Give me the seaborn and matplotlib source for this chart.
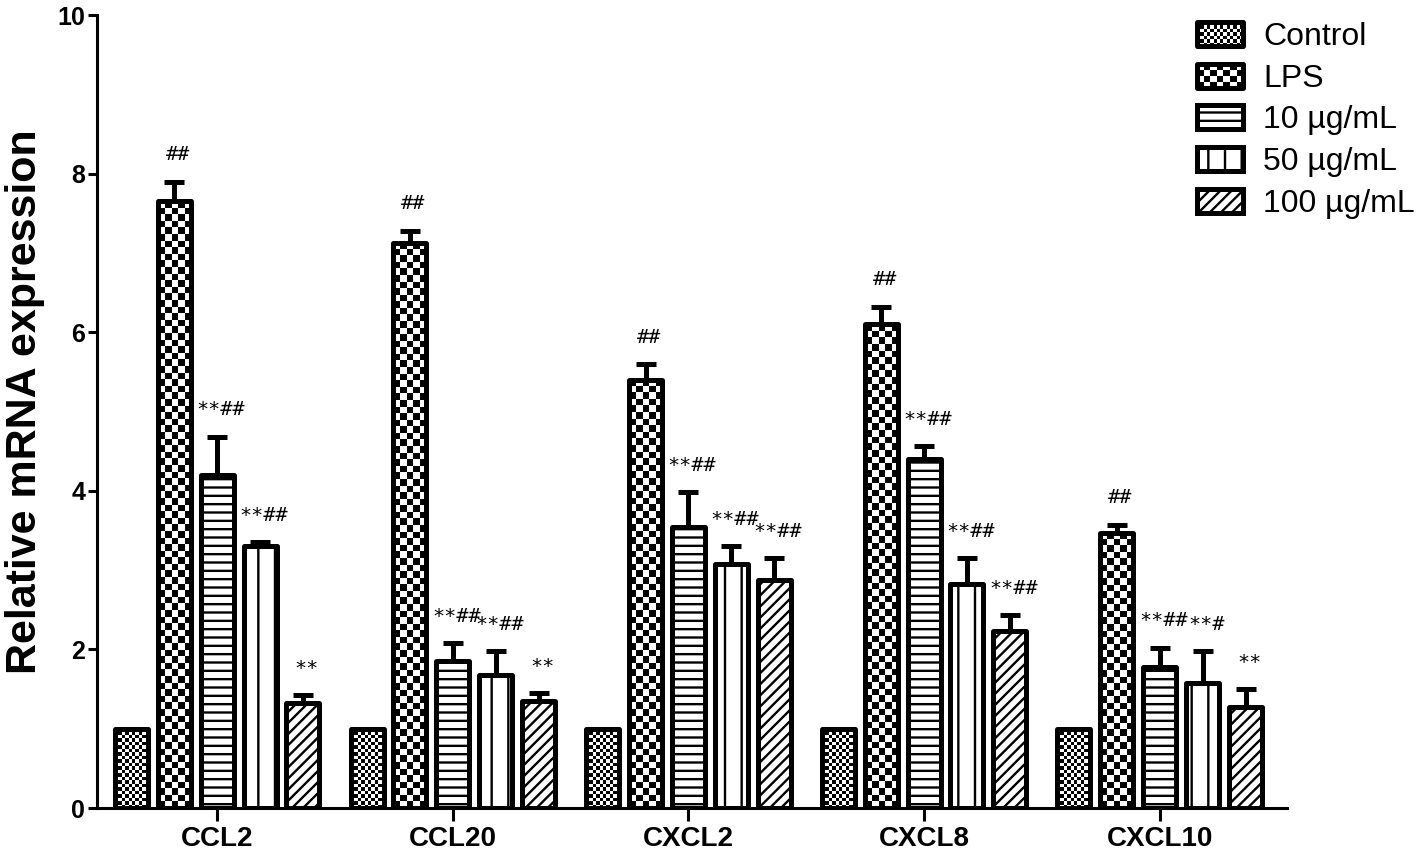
import numpy as np
import pandas as pd
import matplotlib
matplotlib.use('Agg')
import matplotlib.pyplot as plt
import seaborn as sns
from matplotlib.patches import Patch, Rectangle
from matplotlib.legend_handler import HandlerBase

# data
genes = ['CCL2', 'CCL20', 'CXCL2', 'CXCL8', 'CXCL10']
groups = ['Control', 'LPS', '10 µg/mL', '50 µg/mL', '100 µg/mL']

mean_control = [1.00, 1.00, 1.00, 1.00, 1.00]
mean_lps = [7.65, 7.13, 5.40, 6.10, 3.47]
mean_10 = [4.20, 1.85, 3.55, 4.40, 1.78]
mean_50 = [3.30, 1.68, 3.08, 2.82, 1.58]
mean_100 = [1.33, 1.35, 2.87, 2.23, 1.28]

sd_control = [0, 0, 0, 0, 0]
sd_lps = [0.25, 0.15, 0.20, 0.22, 0.10]
sd_10 = [0.48, 0.23, 0.43, 0.16, 0.24]
sd_50 = [0.05, 0.30, 0.22, 0.33, 0.40]
sd_100 = [0.09, 0.10, 0.28, 0.20, 0.22]

ann_control = ['', '', '', '', '']
ann_lps = ['##', '##', '##', '##', '##']
ann_10 = ['**##', '**##', '**##', '**##', '**##']
ann_50 = ['**##', '**##', '**##', '**##', '**#']
ann_100 = ['**', '**', '**##', '**##', '**']

means = [mean_control, mean_lps, mean_10, mean_50, mean_100]
sds = [sd_control, sd_lps, sd_10, sd_50, sd_100]
anns = [ann_control, ann_lps, ann_10, ann_50, ann_100]

rows = []
for g, m in zip(groups, means):
    for gene, v in zip(genes, m):
        rows.append({'gene': gene, 'group': g, 'value': v})
df = pd.DataFrame(rows)

sns.set_style('ticks')
plt.rcParams['font.family'] = ['Liberation Sans', 'DejaVu Sans']
plt.rcParams['hatch.linewidth'] = 1.7
for k in ['text.color', 'axes.labelcolor', 'xtick.color', 'ytick.color', 'axes.edgecolor']:
    plt.rcParams[k] = 'black'

# fill style per group: ('checker', cell px) or hatch string
fills = [('checker', 3.4), ('checker', 6.6), '--', '|', '///']
LW = 3.6

fig = plt.figure(figsize=(14.18, 8.51), dpi=100)
ax = fig.add_axes([0.0684, 0.0505, 0.8392, 0.9318])

sns.barplot(data=df, x='gene', y='value', hue='group', order=genes, hue_order=groups,
            palette=['white'] * 5, edgecolor='black', linewidth=LW, width=0.91, gap=0.23,
            errorbar=None, legend=False, ax=ax)

ax.set_xlim(-0.51, 4.54)
ax.set_ylim(0, 10)

bar_conts = list(ax.containers)
for gi, cont in enumerate(bar_conts):
    fill = fills[gi]
    for bi, bar in enumerate(cont):
        bar.set_joinstyle('round')
        x0, w, h = bar.get_x(), bar.get_width(), bar.get_height()
        xc = x0 + w / 2
        if isinstance(fill, tuple):
            cell = fill[1]
            p0 = ax.transData.transform((x0, 0))
            p1 = ax.transData.transform((x0 + w, h))
            nx = max(1, int(round((p1[0] - p0[0]) / cell)))
            ny = max(1, int(round((p1[1] - p0[1]) / cell)))
            board = (np.add.outer(np.arange(ny), np.arange(nx)) % 2).astype(float)
            bar.set_facecolor('none')
            im = ax.imshow(board, cmap='gray', extent=(x0, x0 + w, 0, h), origin='lower',
                           interpolation='nearest', aspect='auto', zorder=0.9)
            im.set_clip_path(bar)
        else:
            bar.set_hatch(fill)
        sd = sds[gi][bi]
        top = means[gi][bi] + sd
        if sd > 0:
            ax.errorbar(xc, means[gi][bi], yerr=[[0], [sd]], fmt='none', ecolor='black',
                        elinewidth=LW, capsize=7, capthick=LW, zorder=3)
        if anns[gi][bi]:
            ax.text(xc + 0.015, top + 0.22, anns[gi][bi], ha='center', va='bottom',
                    fontsize=14.5, family=['DejaVu Sans Mono'])

ax.set_xlim(-0.51, 4.54)
ax.set_ylim(0, 10)
ax.set_yticks([0, 2, 4, 6, 8, 10])
ax.set_xlabel('')
ax.set_ylabel('Relative mRNA expression', fontsize=31, fontweight='bold')
ax.yaxis.set_label_coords(-0.044, 0.513)
for lab in ax.get_xticklabels() + ax.get_yticklabels():
    lab.set_fontweight('bold')
ax.tick_params(axis='x', labelsize=20, length=9, width=2.2, pad=4)
ax.tick_params(axis='y', labelsize=18, length=6.5, width=2.2, pad=2)
sns.despine(ax=ax)
for s in ['left', 'bottom']:
    ax.spines[s].set_linewidth(2.2)


class CheckerHandler(HandlerBase):
    def __init__(self, cell):
        super().__init__()
        self.cell = cell

    def create_artists(self, legend, orig_handle, xdescent, ydescent, width, height, fontsize, trans):
        arts = []
        nx = max(1, int(round(width / self.cell)))
        ny = max(1, int(round(height / self.cell)))
        cw, ch = width / nx, height / ny
        for i in range(nx):
            for j in range(ny):
                if (i + j) % 2 == 0:
                    arts.append(Rectangle((-xdescent + i * cw, -ydescent + j * ch), cw, ch,
                                          facecolor='black', edgecolor='none', transform=trans))
        arts.append(Rectangle((-xdescent, -ydescent), width, height, facecolor='none',
                              edgecolor='black', lw=LW, joinstyle='round', transform=trans))
        return arts


handles = []
hmap = {}
for g, fill in zip(groups, fills):
    if isinstance(fill, tuple):
        h = Patch(facecolor='white', edgecolor='black', label=g)
        hmap[h] = CheckerHandler(fill[1] * 0.72)
    else:
        h = Patch(facecolor='white', edgecolor='black', hatch=fill, lw=LW, joinstyle='round', label=g)
    handles.append(h)

fig.legend(handles=handles, labels=groups, handler_map=hmap, loc='upper left',
           bbox_to_anchor=(1197 / 1418, 1 - 22 / 851), frameon=False, fontsize=23,
           handlelength=1.45, handleheight=0.78, handletextpad=0.62, labelspacing=0.36,
           borderpad=0, borderaxespad=0)

fig.savefig('out.png', dpi=100)
